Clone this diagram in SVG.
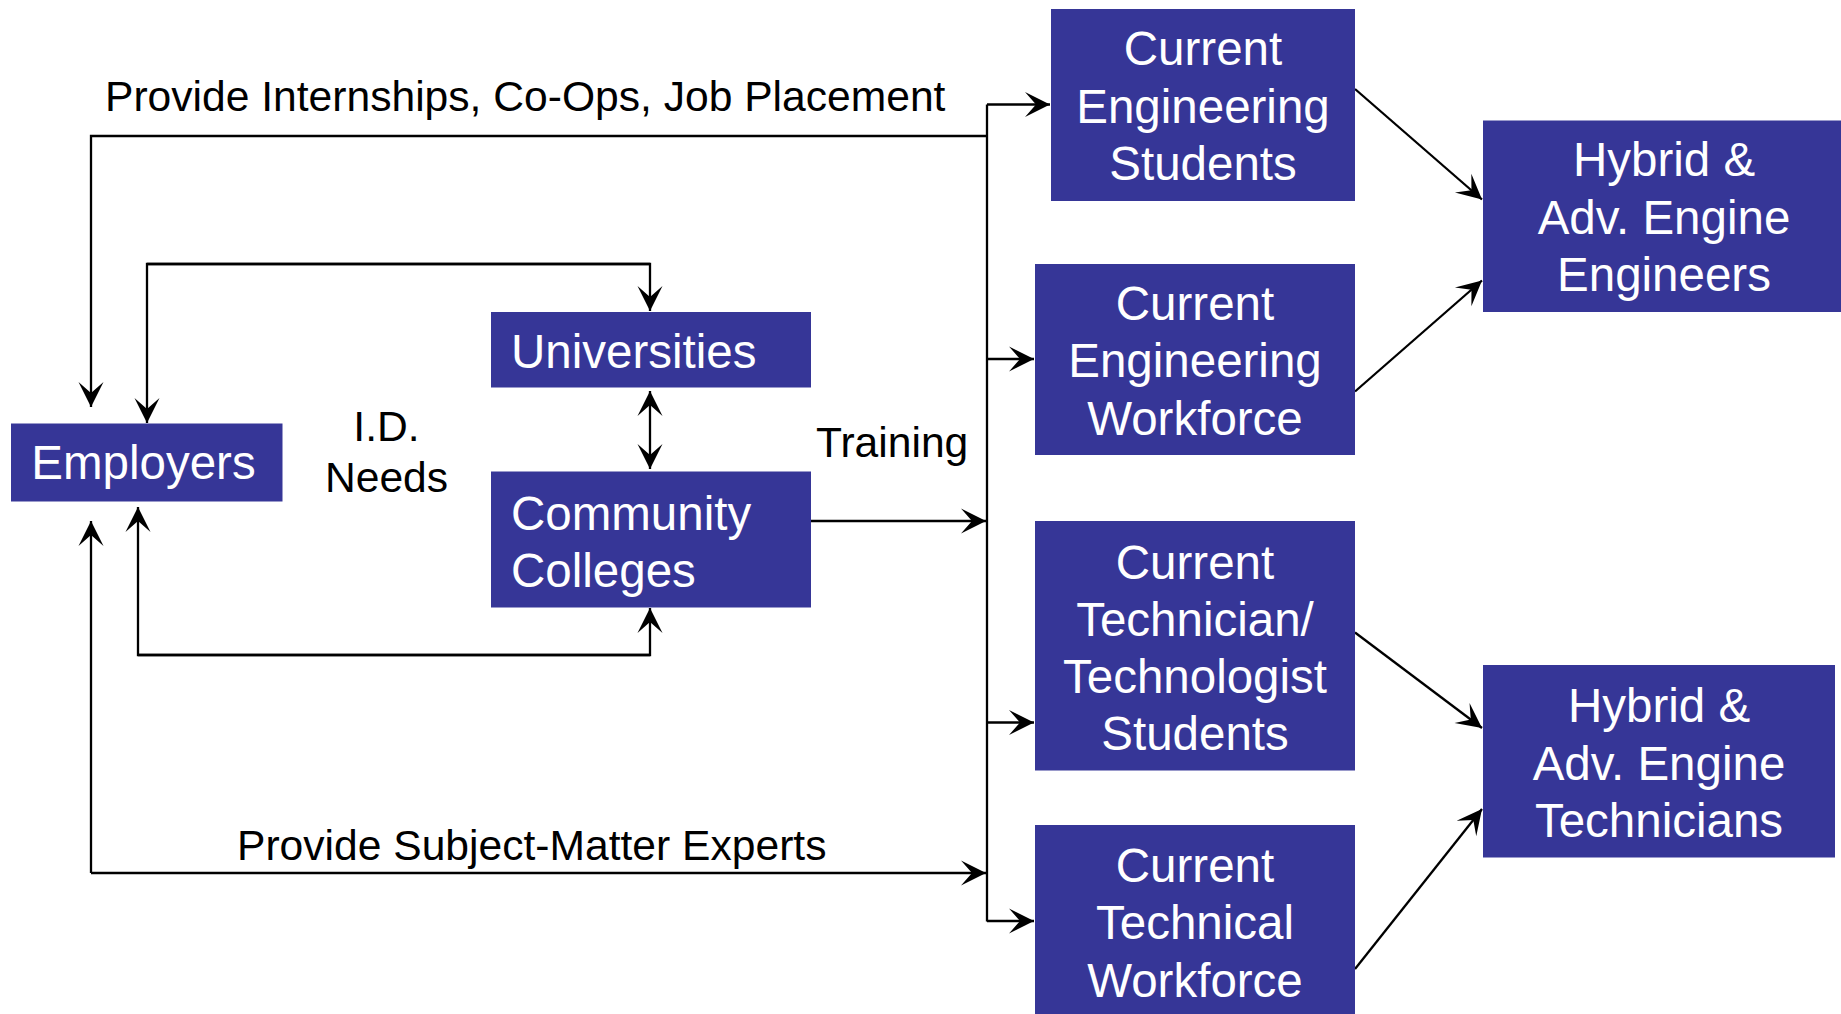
<svg xmlns="http://www.w3.org/2000/svg" width="1841" height="1014" viewBox="0 0 1841 1014">
  <style>
    .box { fill: #363697; }
    .nt { font-family: "Liberation Sans", Arial, sans-serif; font-size: 47.5px; fill: #ffffff; }
    .c { text-anchor: middle; }
    .lbl { font-family: "Liberation Sans", Arial, sans-serif; font-size: 42.6px; fill: #000000; }
    .ln { fill: none; stroke: #000000; stroke-width: 2.3; }
    .ar { marker-end: url(#head); }
  </style>
  <defs>
    <marker id="head" viewBox="-26 -13 27 26" refX="0" refY="0" markerWidth="27" markerHeight="26" markerUnits="userSpaceOnUse" orient="auto-start-reverse">
      <path d="M0,0 L-25,-12.5 L-14,0 L-25,12.5 Z" fill="#000000"/>
    </marker>
  </defs>

  <rect width="1841" height="1014" fill="#ffffff"/>

  <!-- connectors -->
  <g id="connectors">
    <!-- bus -->
    <path class="ln" d="M987,104.5 V921.5"/>
    <path class="ln ar" d="M987,104.5 H1050"/>
    <path class="ln ar" d="M987,359 H1034"/>
    <path class="ln ar" d="M987,722.5 H1034"/>
    <path class="ln ar" d="M987,921 H1034"/>
    <!-- into bus -->
    <path class="ln ar" d="M811,521 H986"/>
    <path class="ln ar" d="M91,873 H986"/>
    <path class="ln ar" d="M91,873 V521"/>
    <!-- internships loop -->
    <path class="ln ar" d="M987,136 H91 V407"/>
    <!-- needs loops -->
    <path class="ln ar" d="M650,264 H147 V423"/>
    <path class="ln ar" d="M147,264 H650 V311"/>
    <path class="ln ar" d="M650,655 H138 V507"/>
    <path class="ln ar" d="M138,655 H650 V608"/>
    <!-- universities / colleges -->
    <path class="ln ar" d="M650,430 V469" />
    <path class="ln ar" d="M650,430 V391" />
    <!-- to outcomes -->
    <path class="ln ar" d="M1355,89 L1482,199.5"/>
    <path class="ln ar" d="M1355,391.5 L1482,280.5"/>
    <path class="ln ar" d="M1355,632.5 L1482,728"/>
    <path class="ln ar" d="M1355,969 L1482,809"/>
  </g>

  <!-- labels -->
  <g id="labels">
    <text class="lbl" x="105" y="110.5">Provide Internships, Co-Ops, Job Placement</text>
    <text class="lbl" x="237" y="860">Provide Subject-Matter Experts</text>
    <text class="lbl c" x="386.5" y="441">I.D.</text>
    <text class="lbl c" x="386.5" y="492">Needs</text>
    <text class="lbl" x="816" y="457">Training</text>
  </g>

  <g id="employers">
    <rect class="box" x="11" y="423.5" width="271.5" height="78"/>
    <text class="nt c" x="143.5" y="479">Employers</text>
  </g>

  <g id="universities">
    <rect class="box" x="491" y="312" width="320" height="75.5"/>
    <text class="nt" x="511" y="367.5">Universities</text>
  </g>

  <g id="community-colleges">
    <rect class="box" x="491" y="471.5" width="320" height="136"/>
    <text class="nt" x="511" y="529.5">Community</text>
    <text class="nt" x="511" y="586.5">Colleges</text>
  </g>

  <g id="eng-students">
    <rect class="box" x="1051" y="9" width="304" height="192"/>
    <text class="nt c" x="1203" y="65">Current</text>
    <text class="nt c" x="1203" y="122.5">Engineering</text>
    <text class="nt c" x="1203" y="179.5">Students</text>
  </g>

  <g id="eng-workforce">
    <rect class="box" x="1035" y="264" width="320" height="191"/>
    <text class="nt c" x="1195" y="319.5">Current</text>
    <text class="nt c" x="1195" y="377">Engineering</text>
    <text class="nt c" x="1195" y="434.5">Workforce</text>
  </g>

  <g id="tech-students">
    <rect class="box" x="1035" y="521" width="320" height="249.5"/>
    <text class="nt c" x="1195" y="578.5">Current</text>
    <text class="nt c" x="1195" y="635.5">Technician/</text>
    <text class="nt c" x="1195" y="693">Technologist</text>
    <text class="nt c" x="1195" y="749.5">Students</text>
  </g>

  <g id="tech-workforce">
    <rect class="box" x="1035" y="825" width="320" height="189"/>
    <text class="nt c" x="1195" y="881.5">Current</text>
    <text class="nt c" x="1195" y="938.5">Technical</text>
    <text class="nt c" x="1195" y="996.5">Workforce</text>
  </g>

  <g id="hybrid-engineers">
    <rect class="box" x="1483" y="120.5" width="358" height="191.5"/>
    <text class="nt c" x="1664" y="175.5">Hybrid &amp;</text>
    <text class="nt c" x="1664" y="233.5">Adv. Engine</text>
    <text class="nt c" x="1664" y="291">Engineers</text>
  </g>

  <g id="hybrid-technicians">
    <rect class="box" x="1483" y="665" width="352" height="192.5"/>
    <text class="nt c" x="1659" y="721.5">Hybrid &amp;</text>
    <text class="nt c" x="1659" y="779.5">Adv. Engine</text>
    <text class="nt c" x="1659" y="836.5">Technicians</text>
  </g>
</svg>
